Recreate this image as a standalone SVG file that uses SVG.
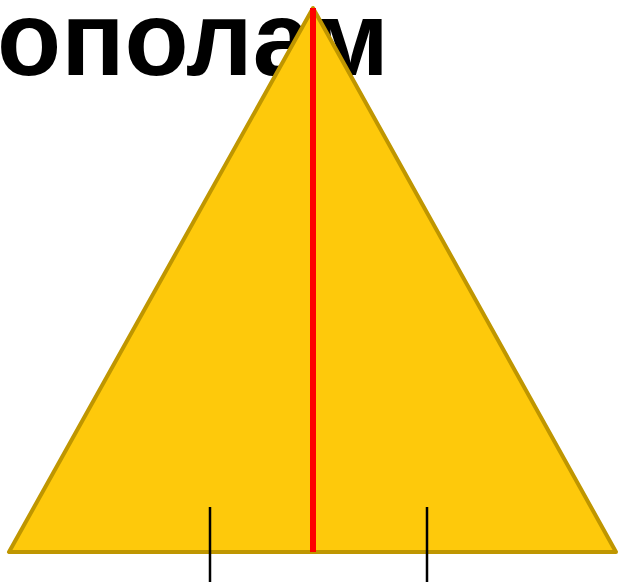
<svg xmlns="http://www.w3.org/2000/svg" width="618" height="586" viewBox="0 0 618 586">
<style>
.title{font-family:"Liberation Sans",Arial,sans-serif;font-weight:bold;font-size:105px;fill:#000}
.tick{stroke:#000;stroke-width:2.5}
</style>
<rect width="618" height="586" fill="#fff"/>
<text class="title" x="-3" y="75">ополам</text>
<g id="triangle">
<polygon points="313,8 9,552 616,552" fill="#FEC90B" stroke="#BF9600" stroke-width="4" stroke-linejoin="round"/>
</g>
<g id="connectors">
<line x1="313" y1="8" x2="313" y2="552" stroke="#FF0000" stroke-width="6"/>
<line class="tick" x1="210" y1="507" x2="210" y2="582"/>
<line class="tick" x1="427" y1="507" x2="427" y2="582"/>
</g>
</svg>
